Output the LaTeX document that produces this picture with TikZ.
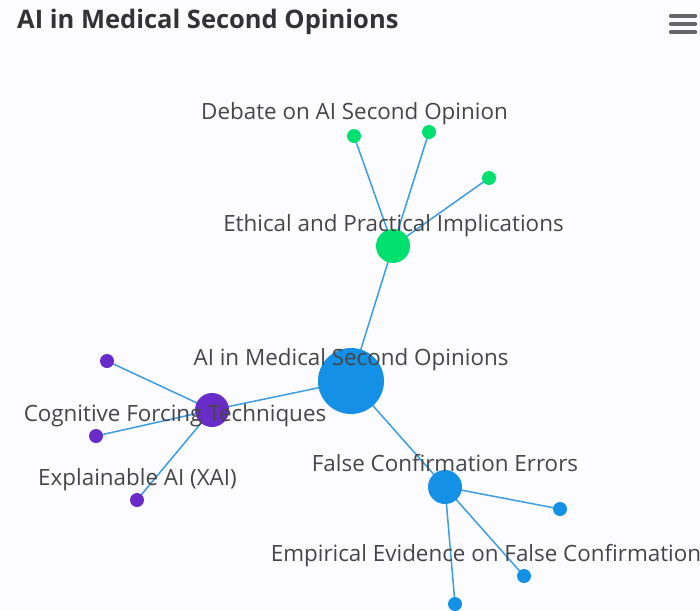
\documentclass[tikz,border=0pt]{standalone}
\usepackage{fontspec}
\setmainfont{Open Sans}
\usetikzlibrary{backgrounds}
\definecolor{bgc}{HTML}{FCFCFF}
\definecolor{edgec}{HTML}{3A9DE6}
\definecolor{bluec}{HTML}{1490E6}
\definecolor{greenc}{HTML}{00E06E}
\definecolor{purplec}{HTML}{6A2CC8}
\definecolor{textc}{HTML}{464646}
\definecolor{titlec}{HTML}{333333}
\definecolor{iconc}{HTML}{666666}
\tikzset{
  dot/.style={circle, inner sep=0pt, draw=none},
  bigdot/.style={dot, minimum size=66pt, fill=bluec},
  middot/.style={dot, minimum size=34pt},
  smalldot/.style={dot, minimum size=14pt},
  link/.style={draw=edgec, line width=1.5pt},
  lbl/.style={text=textc, inner sep=0pt, anchor=base, font=\fontsize{22.4}{26}\selectfont},
  bar/.style={draw=iconc, line width=4.5pt, line cap=round}
}
\begin{document}
\begin{tikzpicture}[x=1pt,y=-1pt]
\useasboundingbox (0,0) rectangle (700,610);
% nodes
\node[bigdot] (root) at (351,381) {};
\node[middot, fill=greenc] (eth) at (393,246) {};
\node[smalldot, fill=greenc] (g1) at (354,136) {};
\node[smalldot, fill=greenc] (g2) at (429,132) {};
\node[smalldot, fill=greenc] (g3) at (489,178) {};
\node[middot, fill=purplec] (cog) at (212,410) {};
\node[smalldot, fill=purplec] (p1) at (107,361) {};
\node[smalldot, fill=purplec] (p2) at (96,436) {};
\node[smalldot, fill=purplec] (p3) at (137,500) {};
\node[middot, fill=bluec] (fce) at (445,487) {};
\node[smalldot, fill=bluec] (b1) at (560,509) {};
\node[smalldot, fill=bluec] (b2) at (524,576) {};
\node[smalldot, fill=bluec] (b3) at (455,604) {};
% edges
\begin{scope}[on background layer]
\fill[bgc] (0,0) rectangle (700,610);
\draw[link] (root.center) -- (eth.center);
\draw[link] (root.center) -- (cog.center);
\draw[link] (root.center) -- (fce.center);
\draw[link] (eth.center) -- (g1.center);
\draw[link] (eth.center) -- (g2.center);
\draw[link] (eth.center) -- (g3.center);
\draw[link] (cog.center) -- (p1.center);
\draw[link] (cog.center) -- (p2.center);
\draw[link] (cog.center) -- (p3.center);
\draw[link] (fce.center) -- (b1.center);
\draw[link] (fce.center) -- (b2.center);
\draw[link] (fce.center) -- (b3.center);
\end{scope}
% labels
\node[lbl] (lg) at (354.5,119) {Debate on AI Second Opinion};
\node[lbl] (le) at (393.5,231) {Ethical and Practical Implications};
\node[lbl] (lr) at (351,365) {AI in Medical Second Opinions};
\node[lbl] (lc) at (175,421) {Cognitive Forcing Techniques};
\node[lbl] (lx) at (137.5,485) {Explainable AI (XAI)};
\node[lbl] (lf) at (445,471) {False Confirmation Errors};
\node[lbl] (lm) at (486,561) {Empirical Evidence on False Confirmation};
% title
\node[anchor=base west, inner sep=0pt, text=titlec, font=\bfseries\fontsize{25.5}{30}\selectfont] (title) at (17,29) {AI in Medical Second Opinions};
% menu icon
\coordinate (m1a) at (671,16); \coordinate (m1b) at (695,16);
\coordinate (m2a) at (671,24); \coordinate (m2b) at (695,24);
\coordinate (m3a) at (671,32); \coordinate (m3b) at (695,32);
\draw[bar] (m1a) -- (m1b);
\draw[bar] (m2a) -- (m2b);
\draw[bar] (m3a) -- (m3b);
\end{tikzpicture}
\end{document}
